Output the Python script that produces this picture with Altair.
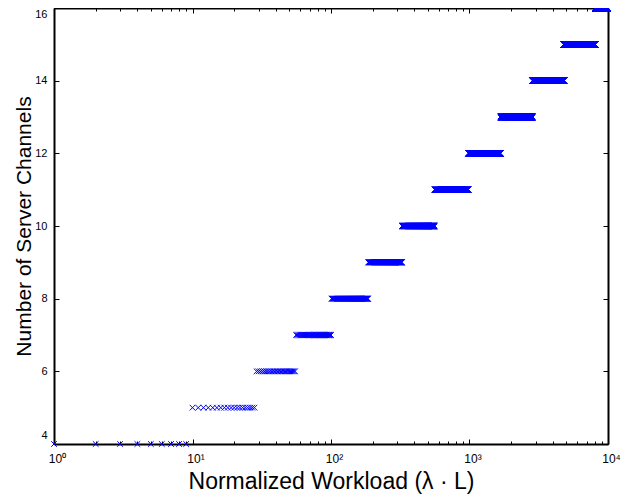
import altair as alt
import pandas as pd

# Number of server channels (step levels) and the first integer workload at each level
channels = [4, 5, 6, 7, 8, 9, 10, 11, 12, 13, 14, 15, 16]
first_workload = [1, 10, 29, 56, 101, 186, 326, 561, 981, 1676, 2851, 4811, 8101]
last_workload = 10000

x_major = [1, 10, 100, 1000, 10000]
x_labels = ["10\u2070", "10\u00b9", "10\u00b2", "10\u00b3", "10\u2074"]
x_minor = [2, 3, 4, 5, 6, 7, 8, 9,
           20, 30, 40, 50, 60, 70, 80, 90,
           200, 300, 400, 500, 600, 700, 800, 900,
           2000, 3000, 4000, 5000, 6000, 7000, 8000, 9000]
y_ticks = [4, 6, 8, 10, 12, 14, 16]

bounds = first_workload + [last_workload + 1]
rows = []
for i, c in enumerate(channels):
    for w in range(bounds[i], bounds[i + 1]):
        rows.append({"workload": w, "channels": c})
df = pd.DataFrame(rows)
frame = pd.DataFrame({"workload": [1, 10000], "channels": [4, 16]})

W, H = 554, 436
FONT = "Liberation Sans"
xs = alt.Scale(type="log", domain=[1, 10000], nice=False)
ys = alt.Scale(domain=[4, 16], nice=False, zero=False)

label_expr = " : ".join(
    f"datum.value == {v} ? '{t}'" for v, t in zip(x_major, x_labels)
) + " : ''"
major_test = "indexof([1,10,100,1000,10000], datum.value) >= 0"
xtick_size = {"condition": {"test": major_test, "value": 5}, "value": 3}
all_x_ticks = sorted(x_major + x_minor)

pts = alt.Chart(df).mark_point(
    shape="M-1,-1L1,1M-1,1L1,-1", filled=False, color="#0000ff",
    size=32, strokeWidth=1, opacity=1
).encode(
    x=alt.X("workload:Q", scale=xs, axis=alt.Axis(
        orient="bottom", values=x_major, labelExpr=label_expr,
        ticks=False, tickSize=0, grid=False, domain=True,
        domainColor="black", domainWidth=2,
        labelFont=FONT, labelFontSize=12, labelColor="black",
        labelBaseline="alphabetic", labelPadding=18, labelOverlap=False,
        labelFlush=False, labelOffset=3,
        title="Normalized Workload (\u03bb \u00b7 L)", titleFont=FONT,
        titleFontSize=23, titleFontWeight="normal", titleColor="black",
        titleY=44, titleBaseline="alphabetic")),
    y=alt.Y("channels:Q", scale=ys, axis=alt.Axis(
        orient="left", values=y_ticks, ticks=False, tickSize=0, grid=False,
        domain=True, domainColor="black", domainWidth=2,
        labelFont=FONT, labelFontSize=11, labelColor="black",
        labelPadding=7, labelFlush=True,
        labelOffset={"condition": {"test": "datum.value == 4", "value": -4},
                     "value": 0},
        title="Number of Server Channels", titleFont=FONT, titleFontSize=21,
        titleFontWeight="normal", titleColor="black", titleX=-24,
        titleY=H / 2, titleAngle=270, titleBaseline="alphabetic",
        titleAlign="center")),
)

ticks_a = alt.Chart(frame).mark_point(opacity=0).encode(
    x=alt.X("workload:Q", scale=xs, axis=alt.Axis(
        orient="top", offset=-H, values=all_x_ticks, labels=False,
        domain=False, ticks=True, tickSize=xtick_size, tickColor="black",
        grid=False, title=None)),
    y=alt.Y("channels:Q", scale=ys, axis=alt.Axis(
        orient="right", offset=-W, values=y_ticks, labels=False,
        domain=False, ticks=True, tickSize=5, tickColor="black",
        grid=False, title=None)),
)

ticks_b = alt.Chart(frame).mark_point(opacity=0).encode(
    x=alt.X("workload:Q", scale=xs, axis=alt.Axis(
        orient="bottom", offset=-H, values=all_x_ticks, labels=False,
        domain=True, domainColor="black", domainWidth=2, ticks=True,
        tickSize=xtick_size, tickColor="black", grid=False, title=None)),
    y=alt.Y("channels:Q", scale=ys, axis=alt.Axis(
        orient="left", offset=-W, values=y_ticks, labels=False,
        domain=True, domainColor="black", domainWidth=2, ticks=True,
        tickSize=5, tickColor="black", grid=False, title=None)),
)

chart = alt.layer(pts, ticks_a, ticks_b).resolve_axis(
    x="independent", y="independent"
).properties(
    width=W, height=H,
    autosize=alt.AutoSizeParams(type="none"),
    padding={"left": 46, "top": 0, "right": 16, "bottom": 50},
    background="white",
).configure_view(stroke=None)

chart.save("out.html", embed_options={"renderer": "svg", "actions": False})
